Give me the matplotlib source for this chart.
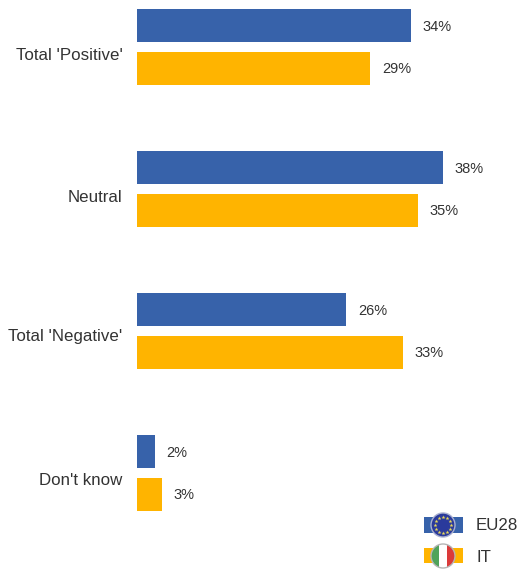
import numpy as np
import matplotlib
matplotlib.use('Agg')
import matplotlib.pyplot as plt
from matplotlib.patches import Circle, Rectangle

plt.rcParams['font.family'] = ['Liberation Sans', 'DejaVu Sans']

categories = ["Total 'Positive'", "Neutral", "Total 'Negative'", "Don't know"]
eu28 = [34, 38, 26, 2.2]
italy = [29, 34.9, 33, 3.1]

BLUE = '#3762AA'
ORANGE = '#FFB400'
TEXT = '#333333'

W, H = 517, 570
fig = plt.figure(figsize=(W / 100, H / 100), dpi=100)

# main chart, bars start at x=137px
ax = fig.add_axes([137 / W, 0, (W - 137) / W, 1])
ax.set_xlim(0, (W - 137) / 8.05)
ax.set_ylim((H - 47) / 142, -47 / 142)
ax.axis('off')

y = np.arange(len(categories))
bars1 = ax.barh(y - 0.151, eu28, height=0.235, color=BLUE)
bars2 = ax.barh(y + 0.151, italy, height=0.235, color=ORANGE)
for bars, vals in ((bars1, eu28), (bars2, italy)):
    for b, v in zip(bars, vals):
        ax.annotate(f'{v:.0f}%', (v, b.get_y() + b.get_height() / 2), xytext=(8.5, -0.7),
                    textcoords='offset points', va='center', ha='left',
                    fontsize=10.5, color=TEXT)

# labels don't sit exactly on the group centre in the original
label_shift = [-6, -6, -3.7, -5.4]
for i, c in enumerate(categories):
    ax.annotate(c, (0, i), xytext=(-10.5, label_shift[i]), textcoords='offset points',
                va='center', ha='right', fontsize=12.2, color=TEXT)

# legend with flag icons, drawn in pixel coords
leg = fig.add_axes([0, 0, 1, 1], facecolor='none')
leg.set_xlim(0, W)
leg.set_ylim(H, 0)
leg.axis('off')

# EU28
leg.add_patch(Rectangle((424, 517), 39, 16, color=BLUE, lw=0))
leg.add_patch(Circle((443, 525), 12, fc='#2A3A9C', ec='#A9B0D0', lw=1))
ang = np.deg2rad(np.arange(0, 360, 30))
leg.scatter(443 + 8 * np.cos(ang), 525 + 8 * np.sin(ang), s=9, marker='*', color='#E8D85A', lw=0)
leg.text(476, 526, 'EU28', fontsize=12.2, color=TEXT, va='center', ha='left')

# IT
leg.add_patch(Rectangle((424, 548), 39, 15, color=ORANGE, lw=0))
circ = Circle((443, 556), 12, fc='white', ec='none')
leg.add_patch(circ)
g = leg.add_patch(Rectangle((430, 543), 9, 26, color='#4FA35A', lw=0))
r = leg.add_patch(Rectangle((447, 543), 9, 26, color='#DB3A3A', lw=0))
g.set_clip_path(circ)
r.set_clip_path(circ)
leg.add_patch(Circle((443, 556), 12, fc='none', ec='#B5B5B5', lw=1))
leg.text(476, 557, 'IT', fontsize=12.2, color=TEXT, va='center', ha='left')

fig.savefig('out.png', dpi=100)
